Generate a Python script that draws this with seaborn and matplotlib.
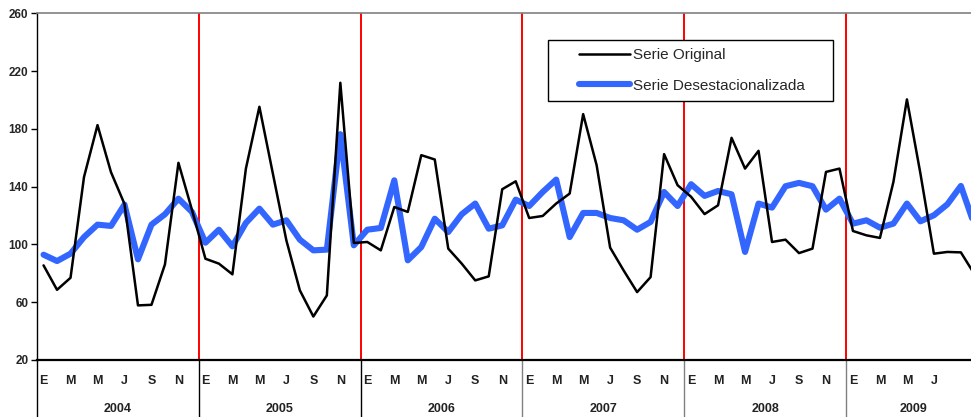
import numpy as np
import pandas as pd
import matplotlib
matplotlib.use("Agg")
import matplotlib.pyplot as plt
import seaborn as sns
from matplotlib import font_manager
from matplotlib.transforms import blended_transform_factory
from matplotlib.legend_handler import HandlerLine2D

# ---------------- data ----------------
years = ["2004", "2005", "2006", "2007", "2008", "2009"]
month_letters = ["E", "F", "M", "A", "M", "J", "J", "A", "S", "O", "N", "D"]
series_names = ["Serie Original", "Serie Desestacionalizada"]

original = [
    85.5, 68.6, 76.9, 146.7, 182.6, 150.0, 128.0, 57.8, 58.2, 86.2, 156.5, 124.0,
    90.1, 86.7, 79.3, 152.5, 195.3, 149.0, 102.8, 68.2, 50.1, 64.7, 211.9, 101.0,
    101.7, 95.9, 125.9, 122.5, 161.8, 158.8, 97.1, 86.7, 75.1, 77.9, 138.2, 143.7,
    118.3, 119.7, 128.3, 135.2, 190.2, 154.8, 97.8, 82.0, 67.0, 77.4, 162.5, 141.0,
    133.0, 121.0, 127.1, 173.8, 152.5, 164.8, 101.7, 103.3, 94.0, 97.1, 150.2, 152.5,
    109.3, 106.3, 104.5, 143.3, 200.4, 149.1, 93.6, 94.8, 94.5, 79.5,
]
desest = [
    92.9, 88.5, 93.6, 105.1, 113.7, 112.8, 127.6, 89.7, 113.7, 120.9, 131.7, 122.5,
    101.2, 110.2, 98.7, 114.9, 124.8, 113.7, 116.7, 103.3, 95.9, 96.4, 176.3, 99.4,
    110.2, 111.4, 144.4, 89.0, 98.2, 117.8, 108.6, 120.9, 128.3, 110.9, 113.2, 131.0,
    126.6, 136.3, 144.9, 105.1, 121.8, 121.8, 118.3, 116.7, 110.2, 115.6, 136.3, 126.6,
    141.7, 133.6, 137.0, 134.7, 94.8, 128.3, 125.5, 140.3, 142.6, 140.3, 124.1, 131.7,
    114.4, 116.7, 111.6, 114.4, 128.3, 116.0, 120.2, 127.8, 140.5, 113.5,
]
y_ticks = [20, 60, 100, 140, 180, 220, 260]
last_labeled_month = 66   # month labels visible in the reference (up to "J" 2009)

# ---------------- style ----------------
sns.set_style("white")
installed = {f.name for f in font_manager.fontManager.ttflist}
narrow = "Liberation Sans Narrow" if "Liberation Sans Narrow" in installed else "Liberation Sans"
plt.rcParams["font.family"] = [narrow, "Liberation Sans", "DejaVu Sans"]
legend_size = 13.4 if narrow == "Liberation Sans Narrow" else 11.0

n = len(original)
idx = np.arange(n)
df = pd.DataFrame({
    "mes": np.concatenate([idx, idx]),
    "valor": original + desest,
    "serie": [series_names[0]] * n + [series_names[1]] * n,
})

W, H = 971, 417
fig = plt.figure(figsize=(W / 100, H / 100), dpi=100)
left_px, top_px, bottom_px = 36.8, 13.3, 360.0
ax = fig.add_axes([left_px / W, (H - bottom_px) / H, 1 - left_px / W, (bottom_px - top_px) / H])

# red year separators
for k in range(1, len(years)):
    ax.axvline(12 * k - 0.5, color="#FF0000", lw=1.4, zorder=1)

colors = {series_names[0]: "black", series_names[1]: "#3366FF"}
widths = {series_names[0]: 1.8, series_names[1]: 4.4}
for name in series_names:
    sub = df[df["serie"] == name]
    sns.lineplot(data=sub, x="mes", y="valor", color=colors[name], lw=widths[name],
                 label=name, ax=ax, zorder=3 if name == series_names[0] else 2)

ax.set_xlim(-0.5, 68.75)
ax.set_ylim(20, 260)
ax.set_yticks(y_ticks)
ax.set_xticks([])
ax.set_xlabel("")
ax.set_ylabel("")
for lab in ax.get_yticklabels():
    lab.set_fontweight("bold")
    lab.set_family(["Liberation Sans", "DejaVu Sans"])
ax.tick_params(axis="y", direction="out", length=4, width=1, color="black",
               labelsize=8.5, pad=2, left=True)

ax.spines["left"].set_color("black")
ax.spines["left"].set_linewidth(1.0)
ax.spines["bottom"].set_color("black")
ax.spines["bottom"].set_linewidth(1.6)
ax.spines["top"].set_color("#808080")
ax.spines["top"].set_linewidth(1.2)
ax.spines["right"].set_visible(False)

# category axis: month letters, year labels and group separators
trans = blended_transform_factory(ax.transData, ax.transAxes)
ph = bottom_px - top_px
month_y = -(381 - bottom_px) / ph
year_y = -(409 - bottom_px) / ph
sep_bottom = -(H - bottom_px) / ph
for yi, yr in enumerate(years):
    start = 12 * yi
    for m in range(0, 12, 2):
        i = start + m
        if i <= last_labeled_month:
            ax.text(i, month_y, month_letters[m], transform=trans, ha="center", va="center",
                    fontsize=9, fontweight="bold", color="#222222", clip_on=False)
    end = min(start + 11, n - 1)
    ax.text((start + end) / 2, year_y, yr, transform=trans, ha="center", va="center",
            fontsize=9, fontweight="bold", color="#222222", clip_on=False)
    ax.plot([start - 0.5, start - 0.5], [0, sep_bottom], transform=trans,
            color="black" if yi < 3 else "#808080", lw=1.0, clip_on=False)


class RightLine(HandlerLine2D):
    def get_xdata(self, legend, xdescent, ydescent, width, height, fontsize):
        L = 51 / (fontsize * 100 / 72) * fontsize
        x = np.array([-xdescent + width - L, -xdescent + width])
        return x, x


fs_px = legend_size * 100 / 72
handles, labels = ax.get_legend_handles_labels()
leg = ax.legend(handles, labels, loc="upper left",
                bbox_to_anchor=(548 / W, (H - 101) / H, 285 / W, 61 / H),
                bbox_transform=fig.transFigure, mode="expand",
                frameon=True, fancybox=False, shadow=False, framealpha=1,
                edgecolor="black", fontsize=legend_size, borderpad=8 / fs_px,
                labelspacing=16.5 / fs_px, handlelength=(630 - 556) / fs_px,
                handletextpad=3 / fs_px, borderaxespad=0,
                handler_map={h: RightLine() for h in handles})
leg.get_frame().set_linewidth(1.0)
leg.set_zorder(5)

fig.savefig("out.png", dpi=100)
